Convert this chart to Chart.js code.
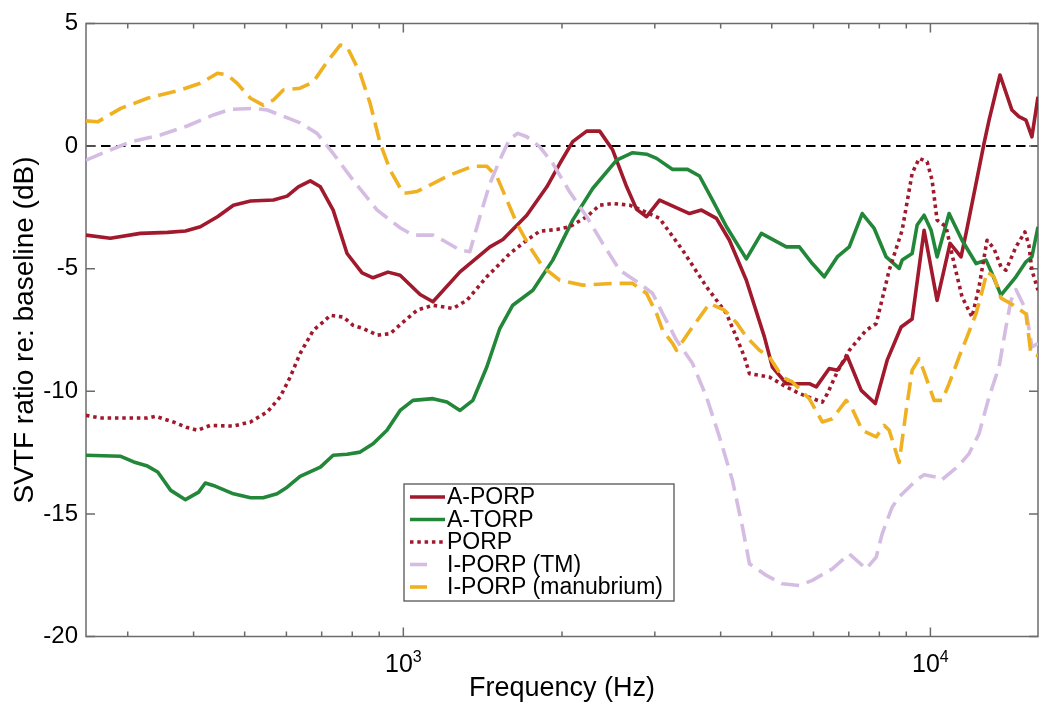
<!DOCTYPE html>
<html>
<head>
<meta charset="utf-8">
<script src="https://cdn.jsdelivr.net/npm/chart.js@4/dist/chart.umd.min.js"></script>
<style>
  html, body { margin: 0; padding: 0; background: #ffffff; }
  #wrap { width: 1050px; height: 707px; position: relative; }
</style>
</head>
<body>
<div id="wrap"><canvas id="c" width="1050" height="707"></canvas></div>
<script>
// ---------------- DATA ----------------
const seriesNames = ['A-PORP', 'A-TORP', 'PORP', 'I-PORP (TM)', 'I-PORP (manubrium)'];

const freqAPORP = [250,278,317,357,386,412,444,476,513,567,602,632,666,696,736,782,835,876,935,986,1076,1138,1281,1460,1545,1715,1872,1981,2096,2228,2358,2496,2653,2771,2894,3063,3491,3679,3927,4156,4475,4842,5014,5329,5640,5891,6074,6428,6657,6954,7392,7860,8279,8800,9233,9728,10296,10897,11431,11684,12207,12640,12920,13552,14279,14723,15180,15580,16000];
const dbAPORP = [-3.63,-3.76,-3.56,-3.52,-3.46,-3.29,-2.88,-2.41,-2.24,-2.2,-2.04,-1.66,-1.42,-1.66,-2.61,-4.38,-5.17,-5.37,-5.14,-5.27,-6.05,-6.35,-5.13,-4.11,-3.81,-2.82,-1.66,-0.71,0.18,0.61,0.61,-0.16,-1.66,-2.58,-2.88,-2.2,-2.75,-2.61,-2.95,-3.84,-5.47,-7.78,-9.01,-9.69,-9.69,-9.69,-9.82,-9.07,-9.14,-8.57,-9.96,-10.5,-8.73,-7.38,-7.05,-3.43,-6.29,-3.97,-4.52,-3.56,-1.52,0.11,1.06,2.9,1.47,1.2,1.06,0.38,2.01];

const freqATORP = [250,291,308,327,342,362,386,409,421,436,476,513,542,576,602,637,696,736,782,828,876,931,986,1043,1138,1210,1281,1355,1440,1524,1613,1761,1921,2096,2287,2539,2723,2894,3023,3243,3461,3647,3860,4103,4475,4779,5329,5640,5969,6289,6657,7015,7423,7823,8243,8724,8839,9233,9437,9728,10030,10296,10850,11482,12207,12750,13088,13612,14530,15180,15580,16000];
const dbATORP = [-12.61,-12.65,-12.88,-13.05,-13.29,-14.04,-14.42,-14.11,-13.74,-13.84,-14.18,-14.34,-14.34,-14.18,-13.91,-13.47,-13.09,-12.61,-12.57,-12.48,-12.14,-11.59,-10.78,-10.37,-10.3,-10.44,-10.78,-10.37,-9.01,-7.44,-6.49,-5.88,-4.65,-3.02,-1.73,-0.57,-0.27,-0.33,-0.5,-0.95,-0.95,-1.22,-2.2,-3.29,-4.6,-3.56,-4.11,-4.11,-4.79,-5.33,-4.52,-4.11,-2.75,-3.36,-4.52,-4.99,-4.65,-4.38,-3.22,-2.82,-3.43,-4.52,-2.75,-3.84,-4.79,-4.65,-5.2,-6.08,-5.33,-4.72,-4.52,-3.29];

const freqPORP = [250,266,327,339,366,389,407,430,476,513,552,584,610,637,675,705,727,769,803,839,892,944,1000,1062,1138,1242,1320,1440,1593,1715,1815,1955,2069,2228,2358,2496,2688,2832,3063,3386,3760,4103,4248,4438,4536,4949,5329,5640,6236,6374,6657,7015,7552,7892,8352,8839,9233,9520,9858,10074,10296,10708,11089,11482,11995,12366,12806,13201,13612,13910,14530,15113,15377,15580,16000];
const dbPORP = [-10.98,-11.09,-11.09,-11.02,-11.25,-11.48,-11.59,-11.39,-11.42,-11.25,-10.84,-10.23,-9.42,-8.46,-7.51,-7.17,-6.9,-6.97,-7.31,-7.44,-7.71,-7.65,-7.17,-6.69,-6.49,-6.62,-6.29,-5.33,-4.38,-3.84,-3.47,-3.4,-3.29,-2.88,-2.41,-2.34,-2.41,-2.61,-2.95,-4.24,-5.74,-6.83,-7.6,-8.6,-9.28,-9.42,-9.82,-10.09,-10.44,-10.1,-9.21,-8.33,-7.51,-7.24,-5.06,-3.43,-1.11,-0.5,-0.64,-1.39,-3.02,-3.29,-4.79,-6.15,-6.97,-5.74,-3.84,-4.18,-4.93,-5.06,-4.11,-3.5,-4.04,-5.06,-5.88];

const freqIPORPTM = [250,278,304,346,389,436,470,519,552,592,637,686,736,803,892,986,1043,1138,1189,1281,1337,1397,1460,1524,1593,1649,1715,1815,1921,2069,2228,2389,2573,2807,2972,3104,3299,3538,3760,3979,4211,4400,4536,4885,5238,5640,5969,6514,7015,7552,7892,8100,8462,8724,9396,9728,10252,10478,11334,11838,12366,12920,13494,13910,14217,14530,15180,15580,16000];
const dbIPORPTM = [-0.57,-0.16,0.18,0.45,0.82,1.27,1.5,1.54,1.47,1.22,0.95,0.52,-0.3,-1.39,-2.61,-3.33,-3.63,-3.63,-3.84,-4.24,-4.31,-2.88,-1.52,-0.57,0.31,0.52,0.38,-0.03,-0.71,-1.87,-2.88,-3.97,-5.06,-5.6,-6.01,-6.83,-7.92,-8.87,-10.23,-11.86,-13.63,-15.54,-17.03,-17.51,-17.85,-17.92,-17.71,-17.24,-16.63,-17.24,-16.76,-15.81,-14.72,-14.31,-13.63,-13.4,-13.5,-13.63,-13.02,-12.54,-11.73,-10.23,-9.01,-7.38,-6.3,-5.85,-6.69,-8.19,-8.05];

const freqIPORPMan = [250,263,291,327,378,412,444,464,484,513,542,567,592,637,675,717,759,782,828,865,904,944,1000,1062,1226,1355,1440,1505,1572,1642,1738,1839,1981,2189,2496,2723,2894,3023,3104,3243,3299,3491,3810,4067,4286,4475,4739,4949,5238,5471,5891,6236,6514,6923,7107,7423,7654,7892,8172,8352,8724,8995,9233,9520,9728,10163,10524,10850,11334,11735,12207,12474,12806,13201,13612,14279,15180,15511,16000];
const dbIPORPMan = [1.03,0.99,1.54,1.95,2.29,2.56,2.97,2.9,2.56,1.95,1.67,1.88,2.29,2.36,2.62,3.44,4.12,4.05,2.97,1.74,0.11,-0.98,-1.93,-1.85,-1.18,-0.82,-0.82,-1.25,-2.2,-3.16,-4.11,-4.93,-5.47,-5.67,-5.6,-5.6,-6.01,-6.83,-7.51,-8.05,-8.33,-7.55,-6.42,-6.69,-7.2,-7.78,-8.33,-8.6,-9.42,-9.62,-10.3,-11.25,-11.12,-10.37,-10.71,-11.59,-11.73,-11.86,-11.39,-11.59,-12.9,-10.78,-9.14,-8.67,-9.21,-10.37,-10.37,-9.69,-8.6,-7.78,-6.83,-6.1,-5.13,-5.33,-6.2,-6.45,-6.85,-8.46,-8.55];

// axis ticks / labels
const xMin = 250, xMax = 16000;
const yMin = -20, yMax = 5, yStep = 5;
const xTickValues = [300,400,500,600,700,800,900,1000,2000,3000,4000,5000,6000,7000,8000,9000,10000];
const xLabelValues = [1000, 10000];
const xLabelBase = '10';
const xLabelExponents = ['3', '4'];
const zeroLineValue = 0;
const xTitle = 'Frequency (Hz)';
const yTitle = 'SVTF ratio re: baseline (dB)';

// ---------------- STYLE ----------------
const FONT = "'Liberation Sans', Arial, Helvetica, sans-serif";
const RED = '#A1192D', GREEN = '#23873A', LAV = '#D5BCE3', ORANGE = '#EFB121';
const AXIS_GRAY = '#6b6b6b';

const freqs = [freqAPORP, freqATORP, freqPORP, freqIPORPTM, freqIPORPMan];
const vals = [dbAPORP, dbATORP, dbPORP, dbIPORPTM, dbIPORPMan];
const styles = [
  { color: RED, dash: [] },
  { color: GREEN, dash: [] },
  { color: RED, dash: [3.5, 3.8] },
  { color: LAV, dash: [18, 8] },
  { color: ORANGE, dash: [18, 8] }
];

const datasets = seriesNames.map((name, i) => ({
  label: name,
  data: freqs[i].map((f, k) => ({ x: f, y: vals[i][k] })),
  borderColor: styles[i].color,
  backgroundColor: styles[i].color,
  borderWidth: 3.6,
  borderDash: styles[i].dash,
  borderCapStyle: 'butt',
  borderJoinStyle: 'round',
  pointRadius: 0,
  pointHoverRadius: 0,
  tension: 0,
  fill: false,
  order: seriesNames.length - 1 - i
}));

// frame, inward ticks and zero line
const framePlugin = {
  id: 'frame',
  beforeDatasetsDraw(chart) {
    const { ctx, chartArea: a, scales: { x, y } } = chart;
    ctx.save();
    const y0 = y.getPixelForValue(zeroLineValue);
    ctx.strokeStyle = '#000';
    ctx.lineWidth = 2;
    ctx.setLineDash([9.5, 5.5]);
    ctx.beginPath();
    ctx.moveTo(a.left, y0);
    ctx.lineTo(a.right, y0);
    ctx.stroke();
    ctx.setLineDash([]);
    ctx.strokeStyle = AXIS_GRAY;
    ctx.lineWidth = 1.5;
    ctx.strokeRect(a.left, a.top, a.right - a.left, a.bottom - a.top);
    ctx.beginPath();
    xTickValues.forEach(v => {
      const px = x.getPixelForValue(v);
      const len = xLabelValues.includes(v) ? 9 : 5;
      ctx.moveTo(px, a.bottom); ctx.lineTo(px, a.bottom - len);
      ctx.moveTo(px, a.top); ctx.lineTo(px, a.top + len);
    });
    for (let v = yMin; v <= yMax; v += yStep) {
      const py = y.getPixelForValue(v);
      ctx.moveTo(a.left, py); ctx.lineTo(a.left + 9, py);
      ctx.moveTo(a.right, py); ctx.lineTo(a.right - 9, py);
    }
    ctx.stroke();
    ctx.restore();
  },
  afterDraw(chart) {
    // decade tick labels with a real superscript exponent
    const { ctx, chartArea: a, scales: { x } } = chart;
    ctx.save();
    ctx.fillStyle = '#000';
    ctx.textBaseline = 'alphabetic';
    ctx.textAlign = 'left';
    xLabelValues.forEach((v, k) => {
      const px = x.getPixelForValue(v);
      ctx.font = '25px ' + FONT;
      const wb = ctx.measureText(xLabelBase).width;
      ctx.font = '16px ' + FONT;
      const we = ctx.measureText(xLabelExponents[k]).width;
      const x0 = px - (wb + we) / 2;
      ctx.font = '25px ' + FONT;
      ctx.fillText(xLabelBase, x0, a.bottom + 35.5);
      ctx.font = '16px ' + FONT;
      ctx.fillText(xLabelExponents[k], x0 + wb, a.bottom + 25);
    });
    ctx.restore();
  }
};

// legend box in the style of the reference
const legendPlugin = {
  id: 'boxLegend',
  afterDraw(chart) {
    const { ctx } = chart;
    const bx = 404, by = 484, bw = 270, bh = 117;
    ctx.save();
    ctx.fillStyle = '#fff';
    ctx.fillRect(bx, by, bw, bh);
    ctx.strokeStyle = '#555';
    ctx.lineWidth = 1.3;
    ctx.strokeRect(bx, by, bw, bh);
    chart.data.datasets.forEach((ds, i) => {
      const yy = by + 13 + i * 22.5;
      const dashed = ds.borderDash && ds.borderDash[0] > 10;
      ctx.strokeStyle = ds.borderColor;
      ctx.lineWidth = ds.borderWidth;
      ctx.lineCap = 'butt';
      ctx.setLineDash(ds.borderDash || []);
      ctx.beginPath();
      ctx.moveTo(bx + 6, yy);
      ctx.lineTo(dashed ? bx + 23 : bx + 41, yy);
      ctx.stroke();
      ctx.setLineDash([]);
      ctx.fillStyle = '#000';
      ctx.font = '23px ' + FONT;
      ctx.textBaseline = 'middle';
      ctx.textAlign = 'left';
      ctx.fillText(ds.label, bx + 43, yy + 1);
    });
    ctx.restore();
  }
};

Chart.defaults.font.family = FONT;
Chart.defaults.color = '#000';

new Chart(document.getElementById('c'), {
  type: 'line',
  data: { datasets },
  options: {
    responsive: false,
    animation: false,
    events: [],
    layout: { padding: { left: 0, right: 12, top: 23.5, bottom: 0 } },
    plugins: { legend: { display: false }, tooltip: { enabled: false } },
    scales: {
      x: {
        type: 'logarithmic',
        min: xMin, max: xMax,
        grid: { display: false, drawTicks: false },
        border: { display: false },
        afterBuildTicks: s => { s.ticks = xTickValues.map(v => ({ value: v })); },
        afterFit: s => { s.height = 70.5; },
        ticks: { display: false, autoSkip: false, maxRotation: 0 },
        title: { display: true, text: xTitle, font: { size: 27 }, color: '#000', padding: { top: 0, bottom: 2 } }
      },
      y: {
        type: 'linear',
        min: yMin, max: yMax,
        grid: { display: false, drawTicks: false },
        border: { display: false },
        afterFit: s => { s.width = 86; },
        ticks: { stepSize: yStep, padding: 8, font: { size: 24 }, color: '#000' },
        title: { display: true, text: yTitle, font: { size: 28 }, color: '#000', padding: { top: 8, bottom: 0 } }
      }
    }
  },
  plugins: [framePlugin, legendPlugin]
});
</script>
</body>
</html>
